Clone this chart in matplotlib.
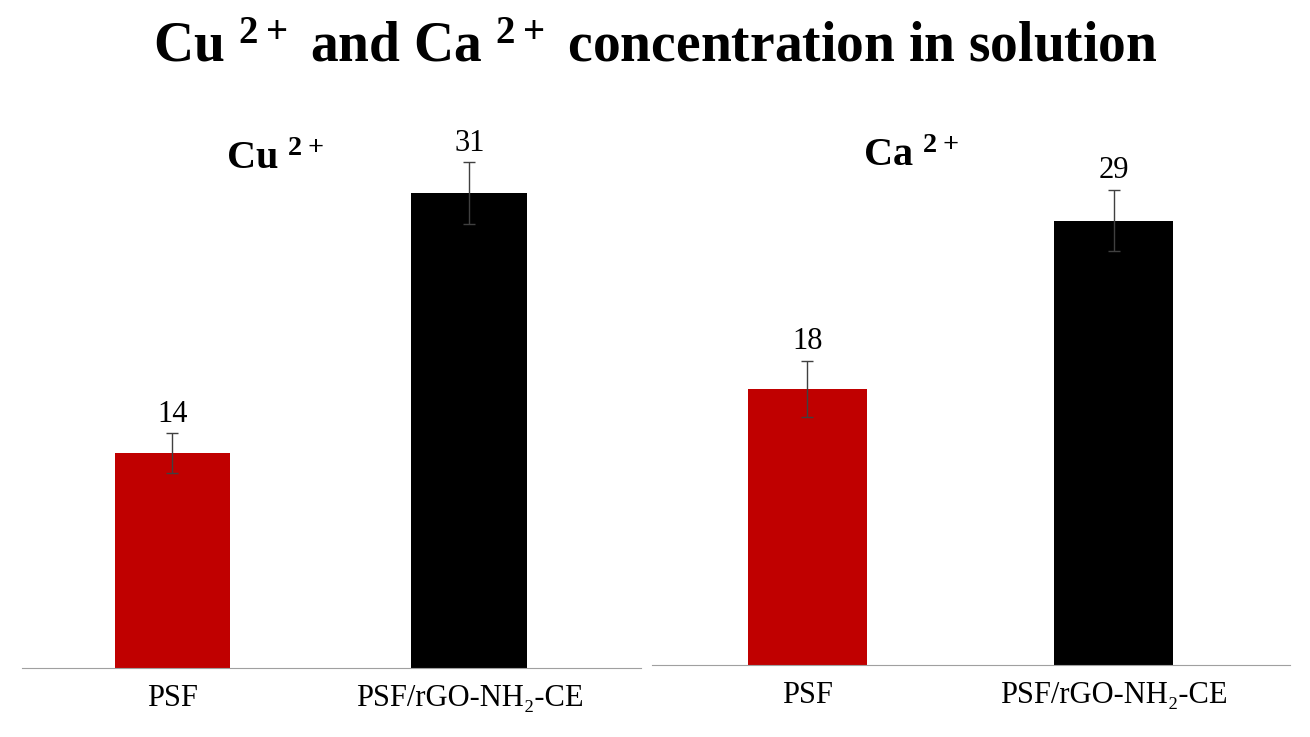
import matplotlib
matplotlib.use('Agg')
from matplotlib import pyplot as plt

categories = ['PSF', 'PSF/rGO-NH\u2082-CE']
cu_values = [14, 31]
cu_errors = [1.3, 2.0]
ca_values = [18, 29]
ca_errors = [1.85, 2.0]
colors = ['#C00000', '#000000']

plt.rcParams['font.family'] = ['Liberation Serif', 'DejaVu Serif']
plt.rcParams['mathtext.fontset'] = 'custom'
plt.rcParams['mathtext.rm'] = 'Liberation Serif:bold'
plt.rcParams['mathtext.default'] = 'rm'

fig = plt.figure(figsize=(13.1, 7.37), dpi=100)
ax1 = fig.add_axes([0.017, 0.094, 0.472, 0.771])
ax2 = fig.add_axes([0.498, 0.098, 0.487, 0.771])

for ax, vals, errs, name in [(ax1, cu_values, cu_errors, 'Cu'), (ax2, ca_values, ca_errors, 'Ca')]:
    x = range(len(categories))
    ax.bar(x, vals, width=0.39, color=colors, yerr=errs,
           error_kw=dict(ecolor='#404040', elinewidth=1, capsize=4, capthick=1))
    for xi, v, e in zip(x, vals, errs):
        ax.text(xi, v + e + 0.3, str(v), ha='center', va='bottom', fontsize=22)
    ax.set_xlim(-0.506, 1.577)
    ax.set_ylim(0, 37.1)
    ax.set_xticks(list(x))
    ax.set_xticklabels(categories, fontsize=22)
    ax.tick_params(axis='x', length=0, pad=12)
    ax.set_yticks([])
    for s in ['top', 'right', 'left']:
        ax.spines[s].set_visible(False)
    ax.spines['bottom'].set_color('#A0A0A0')
    ax.text(0.33, 0.894, name + r' $^{2+}$', transform=ax.transAxes, ha='left',
            va='center', fontsize=29, fontweight='bold')

fig.text(0.5, 0.935, r'Cu $^{2+}$ and Ca $^{2+}$ concentration in solution',
         ha='center', va='center', fontsize=40, fontweight='bold')

plt.savefig('out.png', dpi=100)
